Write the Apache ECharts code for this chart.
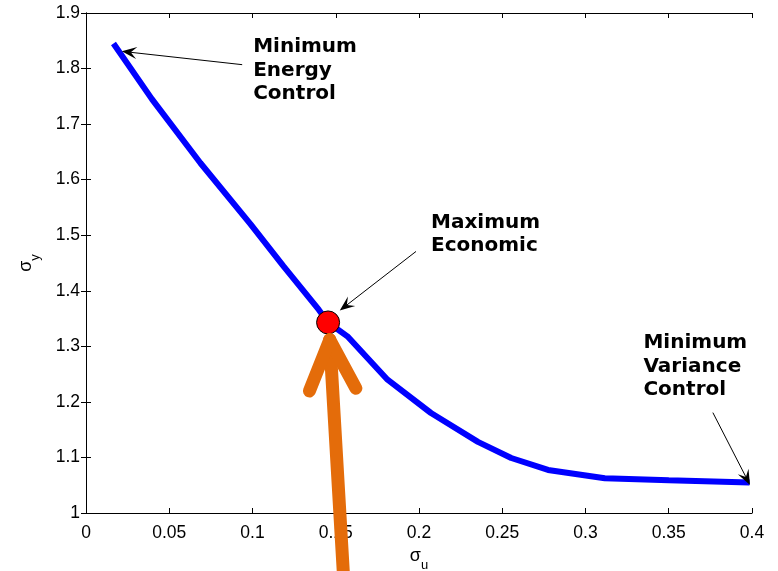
<!DOCTYPE html>
<html>
<head>
<meta charset="utf-8">
<script src="https://cdn.jsdelivr.net/npm/echarts@6/dist/echarts.min.js"></script>
<style>
  html, body { margin: 0; padding: 0; background: #fff; }
  #chart { width: 778px; height: 571px; }
</style>
</head>
<body>
<div id="chart"></div>
<script>
// trade-off curve sigma_u vs sigma_y
const sigmaU = [0.0165, 0.0396, 0.0687, 0.0988, 0.1187, 0.1398, 0.1454, 0.157, 0.1811, 0.2072, 0.2354, 0.2554, 0.2775, 0.3116, 0.35, 0.3985];
const sigmaY = [1.845, 1.745, 1.630, 1.520, 1.444, 1.366, 1.343, 1.318, 1.240, 1.180, 1.128, 1.099, 1.0775, 1.0625, 1.059, 1.055];
const optimum = [0.1454, 1.343];

const xTicks = { min: 0, max: 0.4, step: 0.05 };
const yTicks = { min: 1, max: 1.9, step: 0.1 };

// annotation anchors in data units
const labels = [
  { text: 'Minimum\nEnergy\nControl', at: [0.1004, 1.8595] },
  { text: 'Maximum\nEconomic', at: [0.2072, 1.5441] },
  { text: 'Minimum\nVariance\nControl', at: [0.3348, 1.327] },
];
const pointers = [
  { from: [0.0938, 1.807], to: [0.0215, 1.831] },
  { from: [0.1982, 1.4708], to: [0.1524, 1.3645] },
  { from: [0.3765, 1.1807], to: [0.3988, 1.0505] },
];
const bigArrow = { from: [0.1548, 0.88], to: [0.1464, 1.3117] };

const chart = echarts.init(document.getElementById('chart'));

const tickFont = { color: '#000', fontSize: 17.5, fontFamily: 'Liberation Sans, Arial, sans-serif' };
const line = { show: true, lineStyle: { color: '#000', width: 1 } };
const tick = { show: true, inside: true, length: 5, lineStyle: { color: '#000' } };
const nameRich = {
  s: { fontSize: 18, color: '#000', fontFamily: 'Liberation Sans' },
  sub: { fontSize: 13, color: '#000', fontFamily: 'Liberation Sans', padding: [18, 0, 0, 0] },
};

chart.setOption({
  animation: false,
  grid: { left: 86, right: 26, top: 13, bottom: 58, outerBoundsMode: 'none', containLabel: false },
  xAxis: [
    {
      type: 'value', min: xTicks.min, max: xTicks.max, interval: xTicks.step,
      axisLine: line, axisTick: tick, splitLine: { show: false },
      axisLabel: { ...tickFont, margin: 11 },
      name: '{s|σ}{sub|u}', nameLocation: 'middle', nameGap: 28,
      nameTextStyle: { rich: nameRich },
    },
    {
      type: 'value', position: 'top', min: xTicks.min, max: xTicks.max, interval: xTicks.step,
      axisLine: line, axisTick: tick, axisLabel: { show: false }, splitLine: { show: false },
    },
  ],
  yAxis: [
    {
      type: 'value', min: yTicks.min, max: yTicks.max, interval: yTicks.step,
      axisLine: line, axisTick: tick, splitLine: { show: false },
      axisLabel: { ...tickFont, margin: 6 },
      name: '{s|σ}{sub|y}', nameLocation: 'middle', nameGap: 44,
      nameTextStyle: { rich: nameRich },
    },
    {
      type: 'value', position: 'right', min: yTicks.min, max: yTicks.max, interval: yTicks.step,
      axisLine: line, axisTick: tick, axisLabel: { show: false }, splitLine: { show: false },
    },
  ],
  series: [
    {
      type: 'line',
      data: sigmaU.map((u, i) => [u, sigmaY[i]]),
      showSymbol: false,
      lineStyle: { color: '#0000ff', width: 6 },
      z: 2,
    },
    {
      type: 'scatter',
      data: [optimum],
      symbolSize: 23,
      itemStyle: { color: '#ff0000', opacity: 1, borderColor: '#000', borderWidth: 1 },
      z: 3,
    },
  ],
});

// --- annotations, positioned through the axes ---
const px = (p) => chart.convertToPixel({ gridIndex: 0 }, p);

function thinArrow(a, b) {
  const p0 = px(a), p1 = px(b);
  const dx = p1[0] - p0[0], dy = p1[1] - p0[1];
  const d = Math.hypot(dx, dy), ux = dx / d, uy = dy / d;
  const len = 15, half = 6;
  const base = [p1[0] - ux * len, p1[1] - uy * len];
  const notch = [p1[0] - ux * len * 0.6, p1[1] - uy * len * 0.6];
  return [
    { type: 'line', shape: { x1: p0[0], y1: p0[1], x2: notch[0], y2: notch[1] },
      style: { stroke: '#000', lineWidth: 1 }, z: 50 },
    { type: 'polygon',
      shape: { points: [p1, [base[0] - uy * half, base[1] + ux * half], notch, [base[0] + uy * half, base[1] - ux * half]] },
      style: { fill: '#000' }, z: 50 },
  ];
}

function fatArrow(a, b) {
  const p0 = px(a), p1 = px(b);
  const ang = Math.atan2(p0[1] - p1[1], p0[0] - p1[0]);
  const barb = 55, spread = 25 * Math.PI / 180;
  const st = { stroke: '#e46c0a', lineWidth: 13, lineCap: 'round' };
  const ends = [ang - spread, ang + spread].map((t) => [p1[0] + Math.cos(t) * barb, p1[1] + Math.sin(t) * barb]);
  return [
    { type: 'line', shape: { x1: p0[0], y1: p0[1], x2: p1[0], y2: p1[1] }, style: st, z: 60 },
    ...ends.map((e) => ({ type: 'line', shape: { x1: p1[0], y1: p1[1], x2: e[0], y2: e[1] }, style: st, z: 60 })),
  ];
}

const graphics = [];
labels.forEach((l) => {
  const p = px(l.at);
  graphics.push({
    type: 'text', x: p[0], y: p[1], z: 50,
    style: {
      text: l.text, fill: '#000', fontSize: 20, fontWeight: 'bold',
      fontFamily: 'DejaVu Sans, sans-serif', lineHeight: 23.5, align: 'left', verticalAlign: 'top',
    },
  });
});
pointers.forEach((p) => graphics.push(...thinArrow(p.from, p.to)));
graphics.push(...fatArrow(bigArrow.from, bigArrow.to));

chart.setOption({ graphic: graphics });
</script>
</body>
</html>
